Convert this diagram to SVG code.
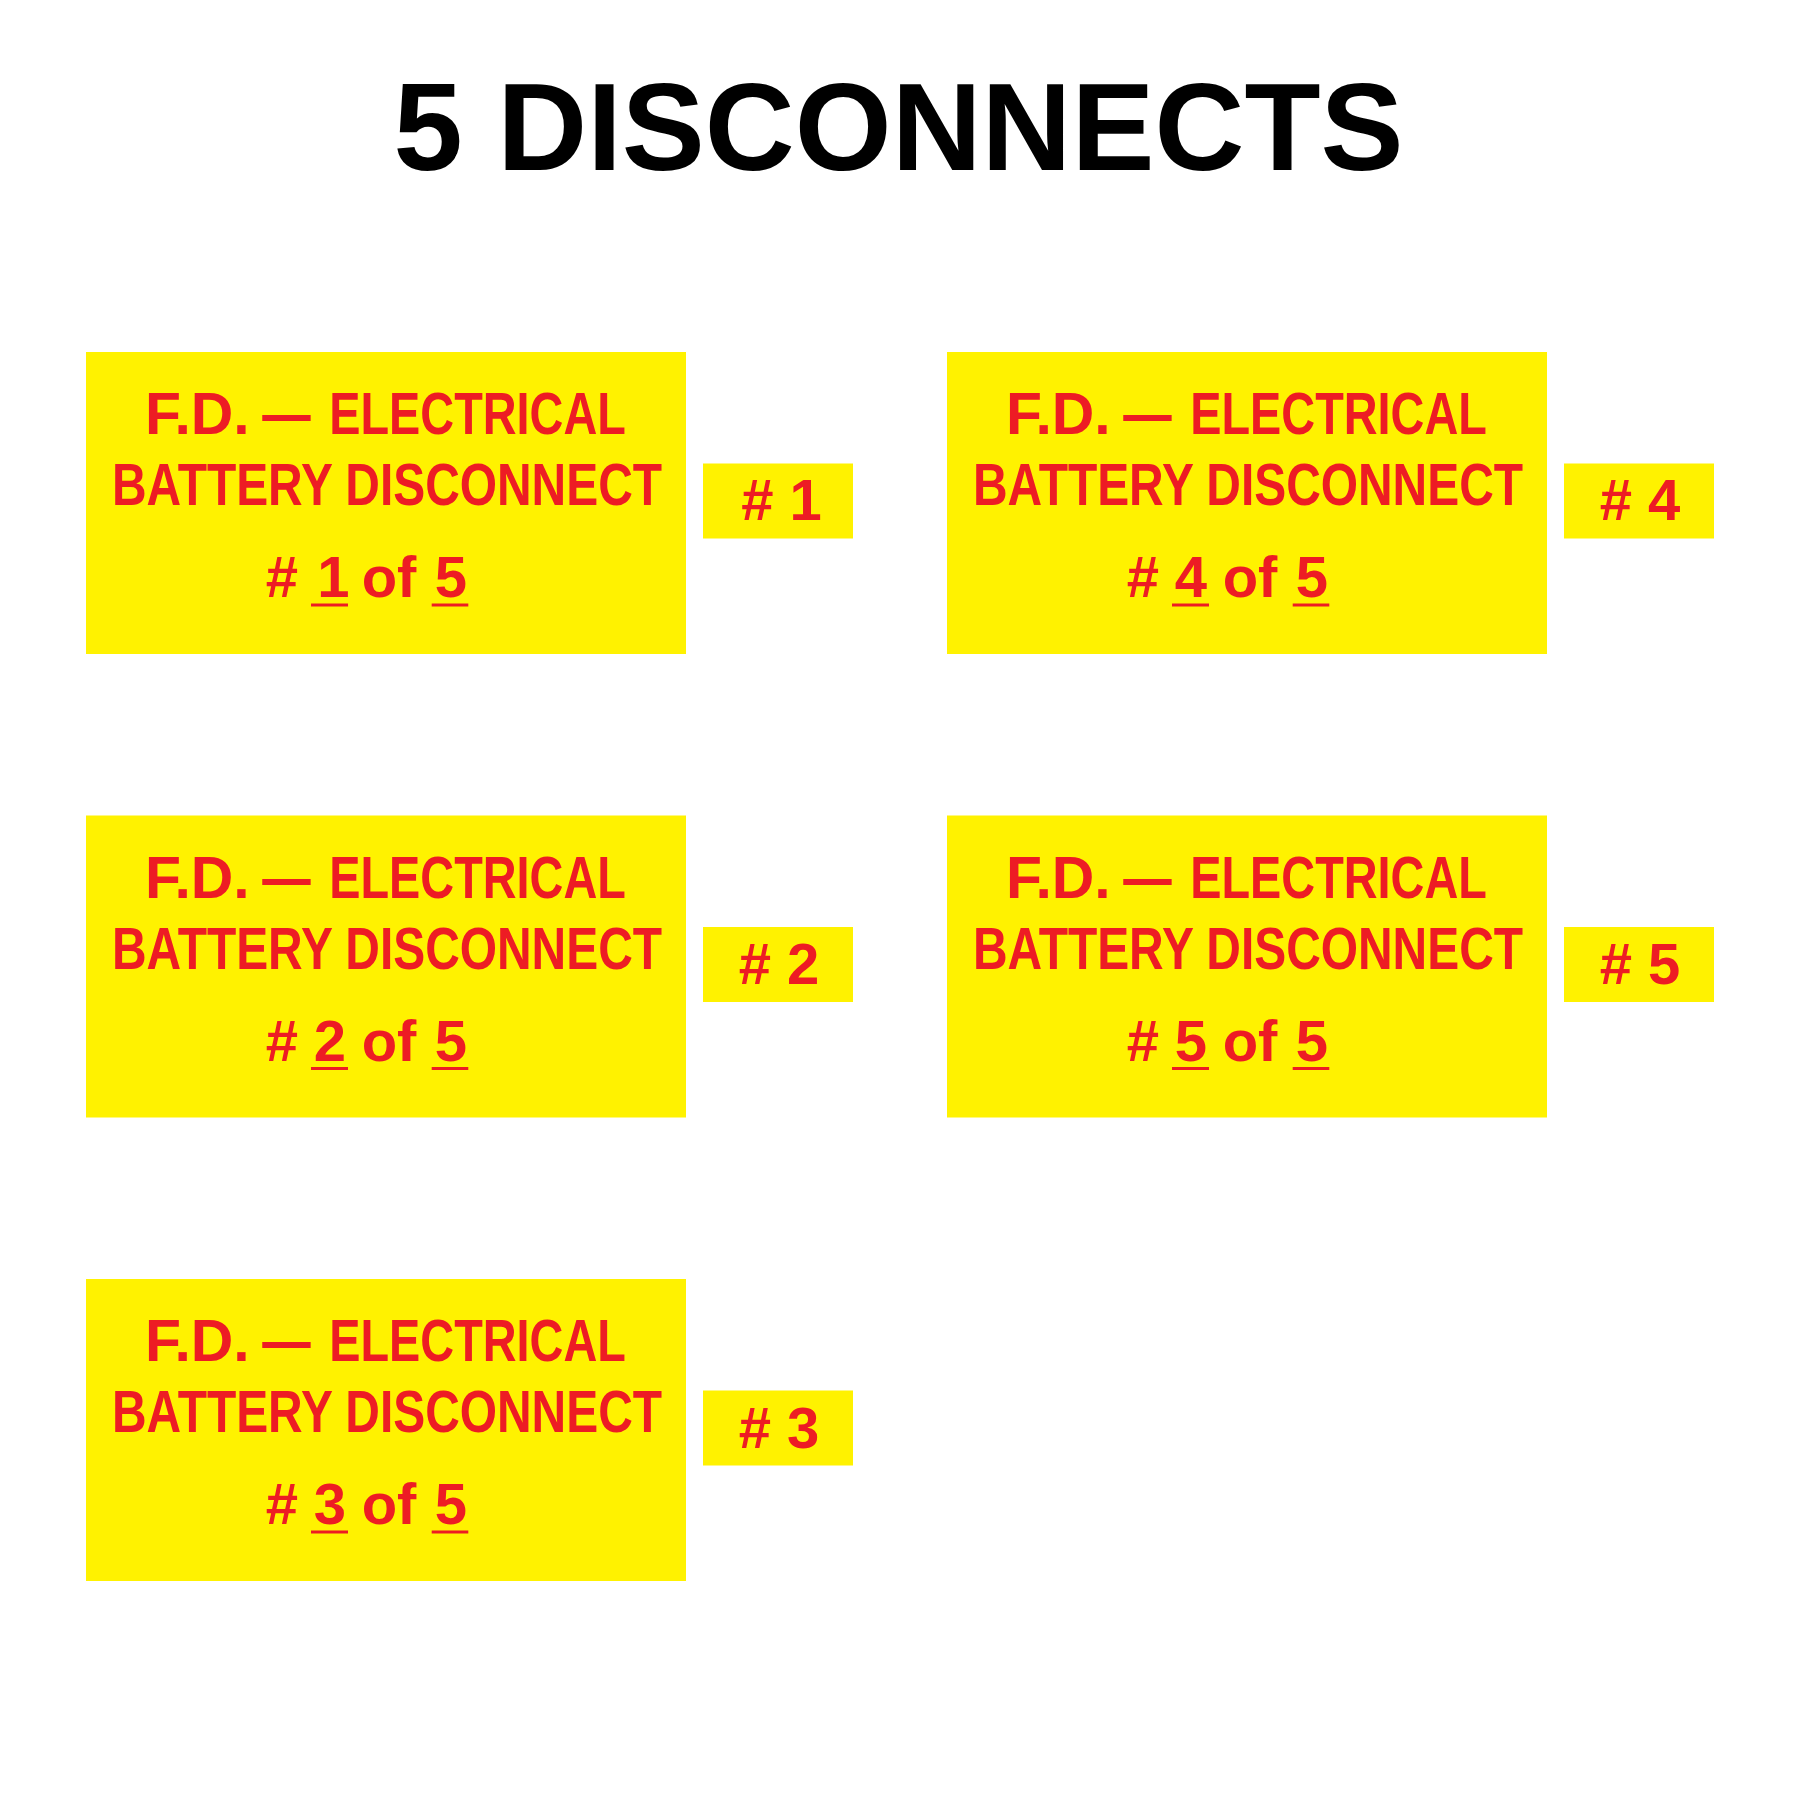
<svg xmlns="http://www.w3.org/2000/svg" width="1800" height="1800" viewBox="0 0 1800 1800">
<style>
.bg{fill:#FFFFFF}
.card{fill:#FFF200}
.t{font-family:"Liberation Sans",Arial,sans-serif;font-weight:bold;fill:#ED1C24}
.l1{font-size:60px;text-anchor:start}
.l12{font-size:60px;text-anchor:middle}
.l3{font-size:58px;text-anchor:middle}
.tag{font-size:58px;text-anchor:middle}
.ul{fill:#ED1C24}
.title{font-family:"Liberation Sans",Arial,sans-serif;font-weight:bold;font-size:125px;fill:#000000;text-anchor:middle}
</style>
<defs>
<g id="hdr">
<rect class="card" x="0" y="0" width="600" height="302"/>
<text class="t l1" y="82.3"><tspan x="59" textLength="104.7" lengthAdjust="spacingAndGlyphs">F.D.</tspan></text>
<text class="t l1" y="82.3" x="176.3" textLength="48.4" lengthAdjust="spacingAndGlyphs">—</text>
<text class="t l1" y="82.3" x="243.3" textLength="296.5" lengthAdjust="spacingAndGlyphs">ELECTRICAL</text>
<text class="t l12" x="301" y="153" textLength="550" lengthAdjust="spacingAndGlyphs">BATTERY DISCONNECT</text>
<text class="t l3" x="196" y="245.3">#</text>
<text class="t l3" x="303" y="245.3">of</text>
<text class="t l3" x="365" y="245.3">5</text>
<rect class="ul" x="225" y="251.5" width="37" height="3"/>
<rect class="ul" x="345.7" y="251.5" width="36.6" height="3"/>
</g>
<rect id="tagbox" class="card" x="0" y="0" width="150" height="75"/>
</defs>
<rect class="bg" x="0" y="0" width="1800" height="1800"/>
<g id="title">
<text class="title" x="898.5" y="170" textLength="1010" lengthAdjust="spacingAndGlyphs">5 DISCONNECTS</text>
</g>
<g id="card1" transform="translate(86,352)">
<use href="#hdr"/>
<text class="t l3" x="247.5" y="245.3">1</text>
</g>
<g id="tag1" transform="translate(703,463.5)">
<use href="#tagbox"/>
<text class="t tag" x="78.5" y="56.5"># 1</text>
</g>
<g id="card2" transform="translate(86,815.5)">
<use href="#hdr"/>
<text class="t l3" x="244" y="245.3">2</text>
</g>
<g id="tag2" transform="translate(703,927)">
<use href="#tagbox"/>
<text class="t tag" x="76" y="57"># 2</text>
</g>
<g id="card3" transform="translate(86,1279)">
<use href="#hdr"/>
<text class="t l3" x="244" y="245.3">3</text>
</g>
<g id="tag3" transform="translate(703,1390.5)">
<use href="#tagbox"/>
<text class="t tag" x="76" y="57"># 3</text>
</g>
<g id="card4" transform="translate(947,352)">
<use href="#hdr"/>
<text class="t l3" x="244" y="245.3">4</text>
</g>
<g id="tag4" transform="translate(1564,463.5)">
<use href="#tagbox"/>
<text class="t tag" x="76" y="56.5"># 4</text>
</g>
<g id="card5" transform="translate(947,815.5)">
<use href="#hdr"/>
<text class="t l3" x="244" y="245.3">5</text>
</g>
<g id="tag5" transform="translate(1564,927)">
<use href="#tagbox"/>
<text class="t tag" x="76" y="57"># 5</text>
</g>
<g id="connectors"/>
</svg>
